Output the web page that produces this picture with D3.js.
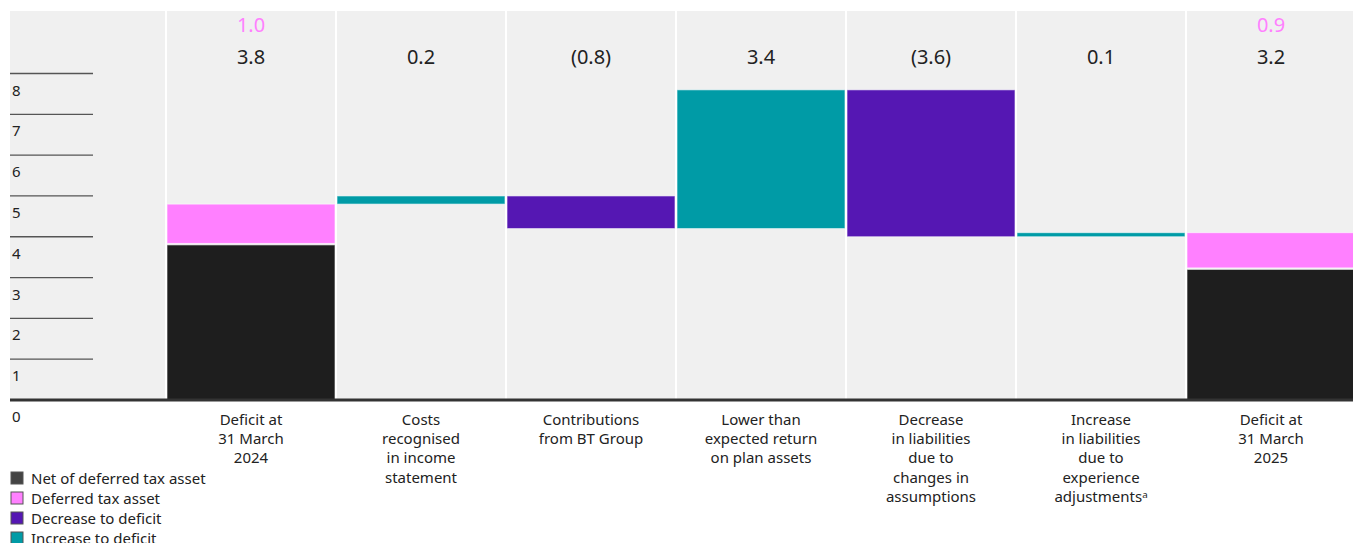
<!DOCTYPE html>
<html>
<head>
<meta charset="utf-8">
<script src="https://cdn.jsdelivr.net/npm/d3@7"></script>
<style>
  body { margin: 0; background: #fff; }
  svg { display: block; font-family: "Noto Sans", sans-serif; }
</style>
</head>
<body>
<div id="chart"></div>
<script>
// Data
const categories = [
    ["Deficit at", "31 March", "2024"],
    ["Costs", "recognised", "in income", "statement"],
    ["Contributions", "from BT Group"],
    ["Lower than", "expected return", "on plan assets"],
    ["Decrease", "in liabilities", "due to", "changes in", "assumptions"],
    ["Increase", "in liabilities", "due to", "experience", "adjustments\u1d43"],
    ["Deficit at", "31 March", "2025"]
];
const stepTypes = ["total", "increase", "decrease", "increase", "decrease", "increase", "total"];
const stepValues = [3.8, 0.2, -0.8, 3.4, -3.6, 0.1, 3.2];
const stepLabels = ["3.8", "0.2", "(0.8)", "3.4", "(3.6)", "0.1", "3.2"];
const deferredTax = [1.0, null, null, null, null, null, 0.9];
const yTicks = [0, 1, 2, 3, 4, 5, 6, 7, 8];
const legendItems = [
    { label: "Net of deferred tax asset", color: "#444444" },
    { label: "Deferred tax asset", color: "#ff80ff" },
    { label: "Decrease to deficit", color: "#5517b3" },
    { label: "Increase to deficit", color: "#009ba6" }
];

const colors = { total: "#1e1e1e", tax: "#ff80ff", decrease: "#5517b3", increase: "#009ba6" };

const width = 1353, height = 543;
const svg = d3.select("#chart").append("svg")
    .attr("width", width)
    .attr("height", height);

const plotLeft = 10, plotTop = 11, baseY = 400;

const x = d3.scaleBand()
    .domain(d3.range(categories.length))
    .range([166, 166 + 170 * categories.length])
    .padding(0);

const y = d3.scaleLinear()
    .domain([0, 8])
    .range([baseY, 73.5]);

// Background panel
svg.append("rect")
    .attr("x", plotLeft).attr("y", plotTop)
    .attr("width", width - plotLeft).attr("height", baseY - plotTop)
    .attr("fill", "#f0f0f0");

// Column dividers
svg.append("g").selectAll("line")
    .data(d3.range(categories.length))
    .join("line")
    .attr("x1", d => x(d)).attr("x2", d => x(d))
    .attr("y1", plotTop).attr("y2", baseY)
    .attr("stroke", "#fff").attr("stroke-width", 2);

// Y gridline stubs + labels
const yAxis = svg.append("g");
yAxis.selectAll("line")
    .data(yTicks.filter(d => d > 0))
    .join("line")
    .attr("x1", plotLeft).attr("x2", 93)
    .attr("y1", d => y(d)).attr("y2", d => y(d))
    .attr("stroke", "#555").attr("stroke-width", 1.3);
yAxis.selectAll("text")
    .data(yTicks)
    .join("text")
    .attr("x", 12)
    .attr("y", d => y(d) + 22)
    .attr("font-size", 15)
    .attr("fill", "#222")
    .text(d => d);

// Compute waterfall steps
let running = 0;
const steps = stepValues.map((v, i) => {
    let lo, hi;
    if (stepTypes[i] === "total") {
        lo = 0; hi = v; running = v + (deferredTax[i] || 0);
    } else {
        const start = running;
        running = start + v;
        lo = Math.min(start, running); hi = Math.max(start, running);
    }
    return { i, lo, hi, type: stepTypes[i] };
});

const bars = svg.append("g");
bars.selectAll("rect.step")
    .data(steps)
    .join("rect")
    .attr("class", "step")
    .attr("x", d => x(d.i) + 1)
    .attr("width", x.bandwidth() - 2)
    .attr("y", d => y(d.hi))
    .attr("height", d => y(d.lo) - y(d.hi))
    .attr("fill", d => colors[d.type])
    .attr("stroke", "#fff")
    .attr("stroke-opacity", 0.6)
    .attr("stroke-width", 1);

// Deferred tax on totals
bars.selectAll("rect.tax")
    .data(steps.filter(d => deferredTax[d.i] != null))
    .join("rect")
    .attr("class", "tax")
    .attr("x", d => x(d.i) + 1)
    .attr("width", x.bandwidth() - 2)
    .attr("y", d => y(d.hi + deferredTax[d.i]))
    .attr("height", d => y(d.hi) - y(d.hi + deferredTax[d.i]) - 1.5)
    .attr("fill", colors.tax)
    .attr("stroke", "#fff")
    .attr("stroke-opacity", 0.6)
    .attr("stroke-width", 1);

// Value labels
svg.append("g").selectAll("text")
    .data(stepLabels)
    .join("text")
    .attr("x", (d, i) => x(i) + x.bandwidth() / 2)
    .attr("y", 64)
    .attr("text-anchor", "middle")
    .attr("font-size", 20)
    .attr("fill", "#222")
    .text(d => d);

svg.append("g").selectAll("text")
    .data(d3.range(categories.length).filter(i => deferredTax[i] != null))
    .join("text")
    .attr("x", i => x(i) + x.bandwidth() / 2)
    .attr("y", 32)
    .attr("text-anchor", "middle")
    .attr("font-size", 20)
    .attr("fill", colors.tax)
    .text(i => d3.format(".1f")(deferredTax[i]));

// Baseline
svg.append("line")
    .attr("x1", plotLeft).attr("x2", width)
    .attr("y1", baseY).attr("y2", baseY)
    .attr("stroke", "#333").attr("stroke-width", 3);

// Category labels
svg.append("g").selectAll("text")
    .data(categories)
    .join("text")
    .attr("x", (d, i) => x(i) + x.bandwidth() / 2)
    .attr("y", 425)
    .attr("text-anchor", "middle")
    .attr("font-size", 15)
    .attr("fill", "#222")
    .each(function (lines) {
        d3.select(this).selectAll("tspan")
            .data(lines)
            .join("tspan")
            .attr("x", d3.select(this).attr("x"))
            .attr("dy", (d, j) => j === 0 ? 0 : 19.2)
            .text(d => d);
    });

// Legend
const legend = svg.append("g").attr("transform", "translate(10, 472)");
const li = legend.selectAll("g")
    .data(legendItems)
    .join("g")
    .attr("transform", (d, i) => `translate(0, ${i * 20})`);
li.append("rect")
    .attr("x", 1).attr("y", 0)
    .attr("width", 12).attr("height", 12)
    .attr("fill", d => d.color)
    .attr("stroke", "#555").attr("stroke-width", 1);
li.append("text")
    .attr("x", 21).attr("y", 11.5)
    .attr("font-size", 15)
    .attr("fill", "#222")
    .text(d => d.label);
</script>
</body>
</html>
